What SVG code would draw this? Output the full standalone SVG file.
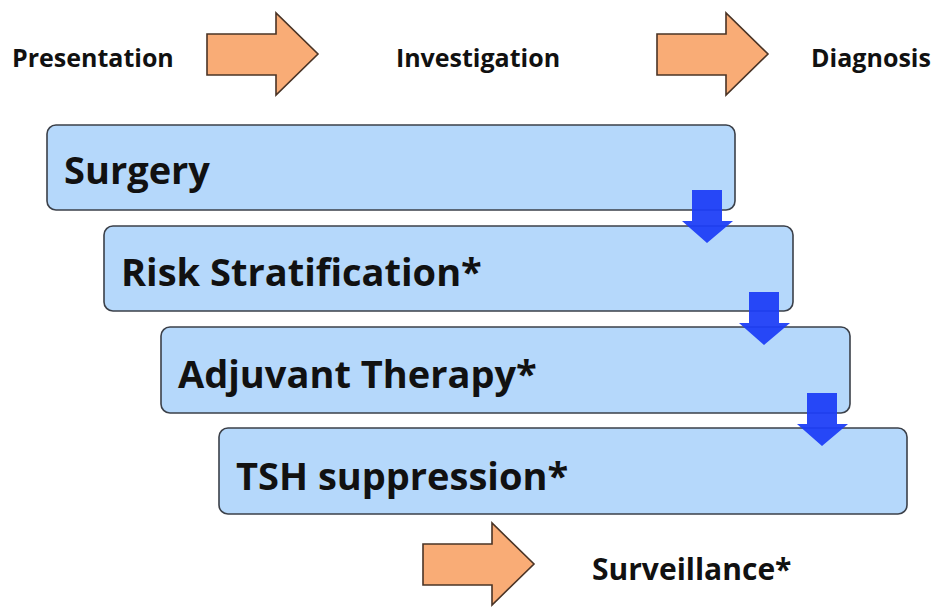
<svg xmlns="http://www.w3.org/2000/svg" width="937" height="608" viewBox="0 0 937 608">
  <defs>
    <style>
      .stage { font-family: "Open Sans", Lato, sans-serif; font-weight: bold; font-size: 25px; fill: #111; }
      .step { fill: #b5d8fb; stroke: #3b4049; stroke-width: 1.6; }
      .steptext { font-family: "Open Sans", Lato, sans-serif; font-weight: bold; font-size: 38px; fill: #111; }
      .flow { fill: #f9ac76; stroke: #4a3426; stroke-width: 1.6; stroke-linejoin: miter; }
      .drop { fill: #1d3ef6; fill-opacity: 0.94; }
    </style>
    <!-- orange block arrow pointing right, origin at shaft left/top of head -->
    <path id="blockArrow" d="M0 21 H69 V0 L111 41 L69 82 V62 H0 Z"/>
    <!-- blue down arrow, origin at top-left of shaft -->
    <path id="downArrow" d="M10 0 H40 V31 H51 L25 53 L0 31 H10 Z"/>
  </defs>

  <!-- stage labels and flow arrows along the top -->
  <g id="stages">
    <text class="stage" x="12" y="67">Presentation</text>
    <use href="#blockArrow" class="flow" x="207" y="13"/>
    <text class="stage" x="478" y="67" text-anchor="middle">Investigation</text>
    <use href="#blockArrow" class="flow" x="657" y="13"/>
    <text class="stage" x="871" y="67" text-anchor="middle">Diagnosis</text>
  </g>

  <g id="surgery">
    <rect class="step" x="47" y="125" width="688" height="85" rx="9"/>
    <text class="steptext" x="64" y="184">Surgery</text>
  </g>

  <g id="risk-stratification">
    <rect class="step" x="104" y="226" width="689" height="85" rx="9"/>
    <text class="steptext" x="121" y="286">Risk Stratification*</text>
  </g>

  <g id="adjuvant-therapy">
    <rect class="step" x="161" y="327" width="689" height="86" rx="9"/>
    <text class="steptext" x="178" y="388">Adjuvant Therapy*</text>
  </g>

  <g id="tsh-suppression">
    <rect class="step" x="219" y="428" width="688" height="86" rx="9"/>
    <text class="steptext" x="236" y="490">TSH suppression*</text>
  </g>

  <g id="connectors">
    <use href="#downArrow" class="drop" x="682" y="190"/>
    <use href="#downArrow" class="drop" x="739" y="292"/>
    <use href="#downArrow" class="drop" x="797" y="393"/>
  </g>

  <g id="surveillance">
    <use href="#blockArrow" class="flow" x="423" y="523"/>
    <text class="stage" x="592" y="580" style="font-size:30px">Surveillance*</text>
  </g>
</svg>
